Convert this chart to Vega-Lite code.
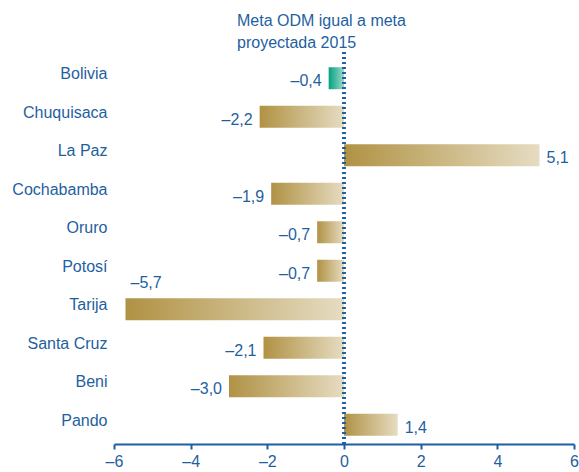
{
  "$schema": "https://vega.github.io/schema/vega-lite/v6.json",
  "autosize": {"type": "none"},
  "width": 460,
  "height": 385,
  "padding": {"left": 114, "top": 59, "right": 5, "bottom": 28},
  "background": "white",
  "config": {
    "view": {"stroke": null},
    "font": "Liberation Sans",
    "locale": {"number": {"decimal": ",", "thousands": ".", "grouping": [3], "currency": ["", " €"], "minus": "–"}}
  },
  "title": {
    "text": ["Meta ODM igual a meta", "proyectada 2015"],
    "anchor": "start",
    "frame": "group",
    "dx": 123,
    "offset": 0,
    "fontSize": 16,
    "font": "Liberation Sans",
    "fontWeight": "normal",
    "color": "#1f5f9f",
    "lineHeight": 22
  },
  "data": {
    "values": [
      {"region": "Bolivia", "v": -0.4},
      {"region": "Chuquisaca", "v": -2.2},
      {"region": "La Paz", "v": 5.1},
      {"region": "Cochabamba", "v": -1.9},
      {"region": "Oruro", "v": -0.7},
      {"region": "Potosí", "v": -0.7},
      {"region": "Tarija", "v": -5.7},
      {"region": "Santa Cruz", "v": -2.1},
      {"region": "Beni", "v": -3.0},
      {"region": "Pando", "v": 1.4}
    ]
  },
  "encoding": {
    "y": {
      "field": "region", "type": "nominal", "sort": null,
      "scale": {"domain": ["Bolivia", "Chuquisaca", "La Paz", "Cochabamba", "Oruro", "Potosí", "Tarija", "Santa Cruz", "Beni", "Pando"], "paddingInner": 0.43, "paddingOuter": 0.215},
      "axis": {"title": null, "domain": false, "ticks": false, "labelFontSize": 16, "labelColor": "#1f5f9f", "labelPadding": 7, "labelOffset": -4, "labelFont": "Liberation Sans"}
    }
  },
  "layer": [
    {
      "transform": [{"filter": "datum.region != 'Bolivia'"}],
      "mark": {"type": "bar", "height": 22, "color": {"gradient": "linear", "x1": 0, "x2": 1, "y1": 0, "y2": 0, "stops": [{"offset": 0, "color": "#b09244"}, {"offset": 1, "color": "#e6dcc2"}]}},
      "encoding": {
        "x": {
          "field": "v", "type": "quantitative",
          "scale": {"domain": [-6, 6], "nice": false},
          "axis": {"title": null, "values": [-6, -4, -2, 0, 2, 4, 6], "grid": false, "labelFlush": false, "domainColor": "#1f5f9f", "domainWidth": 2, "tickColor": "#1f5f9f", "tickWidth": 2, "tickSize": 5, "labelFontSize": 16, "labelColor": "#1f5f9f", "labelPadding": 4, "labelFont": "Liberation Sans", "format": "d"}
        }
      }
    },
    {
      "transform": [{"filter": "datum.region == 'Bolivia'"}],
      "mark": {"type": "bar", "height": 22, "color": {"gradient": "linear", "x1": 0, "x2": 1, "y1": 0, "y2": 0, "stops": [{"offset": 0, "color": "#00a37f"}, {"offset": 1, "color": "#9fd8ca"}]}},
      "encoding": {"x": {"field": "v", "type": "quantitative"}}
    },
    {
      "transform": [{"filter": "datum.v < 0 && datum.region != 'Tarija'"}],
      "mark": {"type": "text", "align": "right", "baseline": "middle", "dx": -7, "dy": 3, "fontSize": 16, "color": "#1f5f9f", "font": "Liberation Sans"},
      "encoding": {"x": {"field": "v", "type": "quantitative"}, "text": {"field": "v", "type": "quantitative", "format": ".1f"}}
    },
    {
      "transform": [{"filter": "datum.v >= 0"}],
      "mark": {"type": "text", "align": "left", "baseline": "middle", "dx": 7, "dy": 3, "fontSize": 16, "color": "#1f5f9f", "font": "Liberation Sans"},
      "encoding": {"x": {"field": "v", "type": "quantitative"}, "text": {"field": "v", "type": "quantitative", "format": ".1f"}}
    },
    {
      "transform": [{"filter": "datum.region == 'Tarija'"}],
      "mark": {"type": "text", "align": "left", "baseline": "middle", "dx": 5, "dy": -26, "fontSize": 16, "color": "#1f5f9f", "font": "Liberation Sans"},
      "encoding": {"x": {"field": "v", "type": "quantitative"}, "text": {"field": "v", "type": "quantitative", "format": ".1f"}}
    },
    {
      "mark": {"type": "rule", "color": "#1f5f9f", "strokeWidth": 2.5, "strokeDash": [2, 3]},
      "encoding": {"x": {"datum": 0}, "y": {"value": -7}, "y2": {"value": 385}}
    }
  ]
}
